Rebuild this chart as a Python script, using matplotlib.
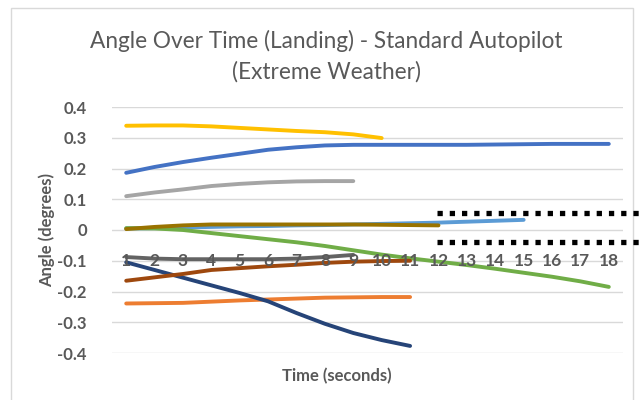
import matplotlib
matplotlib.use("Agg")
import matplotlib.pyplot as plt
from matplotlib.lines import Line2D
from matplotlib.patches import Rectangle

plt.rcParams["font.family"] = ["Lato", "DejaVu Sans"]

# seconds 1..18 on a category axis
seconds = list(range(1, 19))

run_blue = [0.186, 0.205, 0.221, 0.235, 0.248, 0.261, 0.269, 0.275, 0.277, 0.277,
            0.277, 0.277, 0.277, 0.278, 0.279, 0.280, 0.280, 0.280]
run_orange = [-0.239, -0.238, -0.237, -0.233, -0.229, -0.226, -0.223, -0.220,
              -0.219, -0.218, -0.218]
run_gray = [0.110, 0.122, 0.132, 0.143, 0.150, 0.155, 0.158, 0.159, 0.159]
run_yellow = [0.339, 0.340, 0.340, 0.337, 0.332, 0.327, 0.322, 0.318, 0.311, 0.299]
run_lightblue = [0.005, 0.006, 0.008, 0.010, 0.012, 0.013, 0.015, 0.016, 0.018,
                 0.020, 0.022, 0.024, 0.027, 0.030, 0.033]
run_green = [0.006, 0.005, 0.000, -0.010, -0.020, -0.030, -0.040, -0.052, -0.066,
             -0.080, -0.092, -0.103, -0.114, -0.126, -0.139, -0.152, -0.167, -0.185]
run_darkblue = [-0.105, -0.130, -0.155, -0.180, -0.205, -0.232, -0.270, -0.305,
                -0.335, -0.358, -0.377]
run_darkorange = [-0.165, -0.154, -0.143, -0.130, -0.124, -0.118, -0.113, -0.107,
                  -0.103, -0.101, -0.100]
run_darkgray = [-0.088, -0.093, -0.095, -0.095, -0.095, -0.095, -0.093, -0.088, -0.081]
run_olive = [0.003, 0.010, 0.015, 0.018, 0.018, 0.018, 0.018, 0.018, 0.018, 0.017,
             0.016, 0.015]

series = [
    (run_blue, "#4472C4"),
    (run_orange, "#ED7D31"),
    (run_gray, "#A5A5A5"),
    (run_yellow, "#FFC000"),
    (run_lightblue, "#5B9BD5"),
    (run_green, "#70AD47"),
    (run_darkblue, "#264478"),
    (run_darkorange, "#9E480E"),
    (run_darkgray, "#636363"),
    (run_olive, "#997300"),
]

y_ticks = [0.4, 0.3, 0.2, 0.1, 0, -0.1, -0.2, -0.3, -0.4]
y_labels = ["0.4", "0.3", "0.2", "0.1", "0", "-0.1", "-0.2", "-0.3", "-0.4"]

TXT = "#595959"
GRID = "#D9D9D9"

fig = plt.figure(figsize=(6.43, 4.0), dpi=100)
ax = fig.add_axes([112 / 643, 1 - 353 / 400, 511 / 643, 246 / 400])

for vals, col in series:
    ax.plot(seconds[:len(vals)], vals, color=col, lw=2.8, solid_capstyle="round")

ax.set_xlim(0.5, 18.5)
ax.set_ylim(-0.4, 0.4)
ax.set_yticks(y_ticks)
ax.set_yticklabels(y_labels)
ax.tick_params(axis="y", length=0, pad=18, labelsize=12, labelcolor=TXT)
for t in ax.get_yticklabels():
    t.set_fontweight("bold")
ax.set_xticks([])
ax.grid(axis="y", color=GRID, lw=1)
for s in ax.spines.values():
    s.set_visible(False)

# category labels sit next to the axis, in the -0.1 band
for sec in seconds:
    ax.text(sec, -0.1, str(sec), ha="center", va="center", fontsize=12.5,
            color=TXT, fontweight="bold", zorder=5)

fig.text(47 / 643, 1 - 230 / 400, "Angle (degrees)", rotation=90, ha="center",
         va="center", fontsize=12, fontweight="bold", color=TXT)
fig.text(337 / 643, 1 - 376 / 400, "Time (seconds)", ha="center", va="center",
         fontsize=12, fontweight="bold", color=TXT)
fig.text(326 / 643, 1 - 56 / 400, "Angle Over Time (Landing) - Standard Autopilot\n(Extreme Weather)",
         ha="center", va="center", fontsize=16.3, color=TXT, linespacing=1.5)

# chart frame
fig.patches.append(Rectangle((11 / 643, -0.01), 622 / 643, 1.01 - 8 / 400,
                             transform=fig.transFigure, fill=False, ec=GRID, lw=1))

# black dotted markers overlaid on the right
for yp in (213, 242):
    fig.add_artist(Line2D([437 / 643, 1.0], [1 - yp / 400] * 2, transform=fig.transFigure,
                          color="black", lw=3.8, dashes=(1, 1.32), dash_capstyle="butt"))

fig.savefig("out.png", dpi=100, facecolor="white")
